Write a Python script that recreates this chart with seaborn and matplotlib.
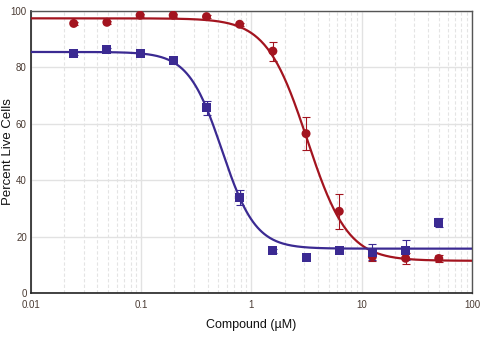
import numpy as np
import pandas as pd
import matplotlib
matplotlib.use("Agg")
import matplotlib.pyplot as plt
from matplotlib import font_manager
import seaborn as sns
from matplotlib.ticker import LogLocator, FixedLocator, NullFormatter

# ---- data ----
doses = [0.0244, 0.0488, 0.0977, 0.195, 0.391, 0.781, 1.5625, 3.125, 6.25, 12.5, 25, 50]
red_values = [95.5, 95.9, 98.4, 98.4, 97.9, 95.2, 85.7, 56.5, 29.0, 13.0, 12.4, 12.3]
red_errors = [0.5, 0.5, 0.5, 0.5, 0.5, 0.6, 3.4, 5.9, 6.1, 1.5, 2.0, 1.4]
blue_values = [84.9, 86.3, 85.0, 82.3, 65.7, 33.8, 15.0, 12.5, 15.3, 14.6, 15.3, 25.0]
blue_errors = [0.6, 0.6, 0.6, 0.8, 2.5, 2.6, 0.8, 0.8, 0.9, 2.8, 3.5, 1.5]
# fitted 4-parameter logistic curves: top, bottom, IC50, hill slope
red_fit = [97.3, 11.5, 3.2, 2.35]
blue_fit = [85.4, 15.8, 0.54, 2.85]
y_ticks = [0, 20, 40, 60, 80, 100]
x_ticks = [0.01, 0.1, 1, 10, 100]
x_tick_labels = ["0.01", "0.1", "1", "10", "100"]

RED = "#a3141f"
BLUE = "#3b2a92"

def four_pl(x, p):
    top, bottom, ic50, h = p
    return bottom + (top - bottom) / (1 + (x / ic50) ** h)

xs = np.logspace(-2, 2, 400)
curves = pd.DataFrame({
    "x": np.concatenate([xs, xs]),
    "y": np.concatenate([four_pl(xs, red_fit), four_pl(xs, blue_fit)]),
    "s": ["red"] * len(xs) + ["blue"] * len(xs),
})
pts = pd.DataFrame({
    "x": doses + doses,
    "y": red_values + blue_values,
    "s": ["red"] * len(doses) + ["blue"] * len(doses),
})

def pick(name, fallback):
    try:
        font_manager.findfont(name, fallback_to_default=False)
        return name
    except Exception:
        return fallback

NARROW = pick("Liberation Sans Narrow", "Liberation Sans")
narrow_found = NARROW == "Liberation Sans Narrow"

sns.set_style("white")
plt.rcParams["font.family"] = ["Liberation Sans", "DejaVu Sans"]

fig = plt.figure(figsize=(4.95, 3.42), dpi=100)
ax = fig.add_axes([0.0626, 0.1424, 0.8909, 0.8263])

ax.set_xscale("log")
ax.set_xlim(0.01, 100)
ax.set_ylim(0, 100)

# grid
ax.xaxis.set_major_locator(FixedLocator(x_ticks))
ax.xaxis.set_minor_locator(LogLocator(base=10, subs=np.arange(2, 10)))
ax.xaxis.set_minor_formatter(NullFormatter())
ax.grid(True, which="major", axis="both", color="#e2e2e2", lw=1.0, ls="-")
ax.grid(True, which="minor", axis="x", color="#e4e4e4", lw=0.8, ls=(0, (3, 2)))
ax.set_axisbelow(True)

palette = {"red": RED, "blue": BLUE}
sns.lineplot(data=curves, x="x", y="y", hue="s", palette=palette, lw=1.6,
             legend=False, ax=ax, zorder=3)

ax.errorbar(doses, red_values, yerr=red_errors, fmt="none", ecolor=RED,
            elinewidth=0.8, capsize=3, capthick=0.8, zorder=4)
ax.errorbar(doses, blue_values, yerr=blue_errors, fmt="none", ecolor=BLUE,
            elinewidth=0.8, capsize=3, capthick=0.8, zorder=4)

sns.scatterplot(data=pts, x="x", y="y", hue="s", style="s",
                markers={"red": "o", "blue": "s"}, palette=palette,
                s=42, edgecolor="none", legend=False, ax=ax, zorder=5)

tick_size = 8.0 if narrow_found else 7.0
ax.set_yticks(y_ticks)
ax.set_yticklabels([str(v) for v in y_ticks])
ax.set_xticklabels(x_tick_labels)
ax.tick_params(axis="both", which="both", length=0, labelsize=tick_size, colors="#4a3b33")
for lab in ax.get_xticklabels() + ax.get_yticklabels():
    lab.set_family([NARROW, "DejaVu Sans"])
ax.tick_params(axis="x", pad=5)
ax.tick_params(axis="y", pad=3)

ax.set_xlabel("Compound (\u00b5M)", fontsize=10.5 if narrow_found else 9.0,
              family=[NARROW, "DejaVu Sans"], color="#111111")
ax.xaxis.set_label_coords(0.5, -0.112)
ax.xaxis.label.set_va("center")
ax.set_ylabel("Percent Live Cells", fontsize=9.5,
              family=["Liberation Sans", "DejaVu Sans"], color="#111111")
ax.yaxis.label.set_va("center")
ax.yaxis.set_label_coords(-0.053, 0.5)

for side in ["left", "bottom"]:
    ax.spines[side].set_color("#222222")
    ax.spines[side].set_linewidth(1.2)
for side in ["top", "right"]:
    ax.spines[side].set_color("#555555")
    ax.spines[side].set_linewidth(1.0)
    ax.spines[side].set_visible(True)

fig.savefig("out.png", dpi=100)
